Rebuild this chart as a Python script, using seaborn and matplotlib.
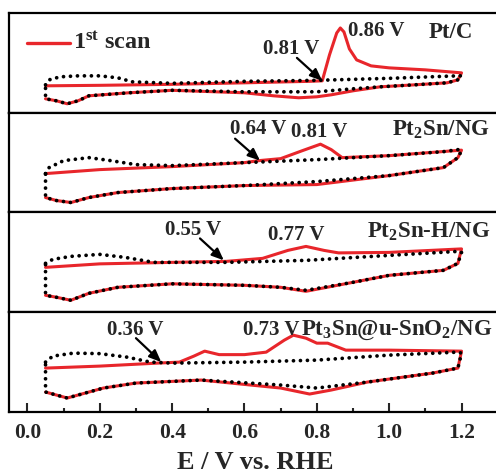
import matplotlib
matplotlib.use("Agg")
import matplotlib.pyplot as plt
import seaborn as sns

# anodic sweep then cathodic sweep, current in arbitrary units
PTC_DOT_V = [0.05, 0.06, 0.09, 0.14, 0.20, 0.25, 0.29, 0.40, 0.60, 0.80, 1.00, 1.15, 1.19, 1.20, 1.19, 1.16,
             1.07, 0.975, 0.90, 0.80, 0.60, 0.40, 0.28, 0.17, 0.14, 0.11, 0.08, 0.05, 0.05]
PTC_DOT_I = [28, 33, 36, 37, 37, 35, 31, 29.5, 31.5, 32.5, 34.5, 36.5, 37, 37, 33, 30,
             28, 26, 24, 21, 21, 22.5, 20, 17, 12, 9, 12, 14, 28]
PTC_RED_V = [0.05, 0.20, 0.40, 0.60, 0.78, 0.815, 0.835, 0.855, 0.865, 0.875, 0.89, 0.91, 0.95, 1.00, 1.10, 1.20,
             1.19, 1.16, 1.07, 0.975, 0.90, 0.84, 0.80, 0.75, 0.68, 0.60, 0.40, 0.28, 0.17, 0.14, 0.11, 0.08,
             0.05]
PTC_RED_I = [27, 27.5, 28.5, 30, 31.5, 32, 58, 80, 85, 81, 64, 53, 47, 45, 43, 40,
             33, 30, 28, 26, 22, 18, 16, 15, 17, 20, 22.5, 20, 17, 12, 9, 12,
             14]

PT2SN_DOT_V = [0.05, 0.06, 0.10, 0.17, 0.23, 0.30, 0.40, 0.60, 0.80, 1.00, 1.15, 1.19, 1.20, 1.19, 1.15, 1.00,
               0.80, 0.60, 0.40, 0.25, 0.17, 0.12, 0.08, 0.05, 0.05]
PT2SN_DOT_I = [39, 45, 52, 55, 52, 48, 47, 50, 53, 57, 61, 63, 62, 55, 45, 37,
               31, 27, 24, 20, 15, 10, 12, 15, 39]
PT2SN_RED_V = [0.05, 0.20, 0.40, 0.60, 0.64, 0.70, 0.76, 0.81, 0.84, 0.87, 1.00, 1.20, 1.19, 1.15, 1.00, 0.80,
               0.60, 0.40, 0.25, 0.17, 0.12, 0.08, 0.05]
PT2SN_RED_I = [39, 43, 46, 50, 52, 54, 62, 68.5, 63, 55, 57, 62.5, 55, 45, 37, 28,
               27, 24, 20, 15, 10, 12, 15]

PT2SNH_DOT_V = [0.05, 0.07, 0.12, 0.20, 0.27, 0.35, 0.55, 0.77, 1.00, 1.19, 1.20, 1.19, 1.15, 1.00, 0.90, 0.77,
                0.70, 0.60, 0.40, 0.25, 0.17, 0.12, 0.08, 0.05, 0.05]
PT2SNH_DOT_I = [49, 53, 56, 58, 55, 50, 50, 52, 57, 61, 60, 49, 42, 37, 30, 22,
                25, 27, 28.5, 25, 19, 12, 15, 17, 49]
PT2SNH_RED_V = [0.05, 0.20, 0.40, 0.55, 0.65, 0.72, 0.77, 0.82, 0.86, 1.00, 1.20, 1.19, 1.15, 1.00, 0.90, 0.77,
                0.70, 0.60, 0.40, 0.25, 0.17, 0.12, 0.08, 0.05]
PT2SNH_RED_I = [45, 48.5, 50, 51, 54, 62, 66, 62, 59.5, 60, 63.5, 49, 42, 37, 30, 21,
                25, 27, 28.5, 25, 19, 12, 15, 17]

PT3SN_DOT_V = [0.05, 0.07, 0.127, 0.20, 0.275, 0.34, 0.40, 0.60, 0.80, 1.00, 1.19, 1.20, 1.19, 1.12, 0.94, 0.80,
               0.70, 0.48, 0.30, 0.21, 0.15, 0.11, 0.08, 0.05, 0.05]
PT3SN_DOT_I = [50, 56, 59, 58.5, 55, 50, 49, 50, 52, 57, 60, 59, 44, 39, 30, 24,
               27, 32, 29, 24, 18, 14, 17, 20, 50]
PT3SN_RED_V = [0.05, 0.20, 0.36, 0.42, 0.46, 0.49, 0.53, 0.60, 0.66, 0.71, 0.735, 0.77, 0.80, 0.83, 0.88, 1.00,
               1.20, 1.19, 1.12, 0.94, 0.84, 0.78, 0.70, 0.48, 0.30, 0.21, 0.15, 0.11, 0.08, 0.05]
PT3SN_RED_I = [44, 46, 49, 50, 56, 61, 57.5, 57.5, 60, 72, 77, 74, 69, 69, 62, 62,
               61, 44, 39, 30, 22, 18, 24, 32, 29, 24, 18, 14, 17, 20]

SAMPLE_LABELS = ["Pt/C", "Pt$_2$Sn/NG", "Pt$_2$Sn-H/NG", "Pt$_3$Sn@u-SnO$_2$/NG"]
ONSET_LABELS = ["0.81 V", "0.64 V", "0.55 V", "0.36 V"]
PEAK_LABELS = ["0.86 V", "0.81 V", "0.77 V", "0.73 V"]
X_TICKS = [0.0, 0.2, 0.4, 0.6, 0.8, 1.0, 1.2]


def main():
    sns.set_theme(style="ticks")
    plt.rcParams["font.family"] = ["Liberation Serif", "DejaVu Serif"]
    plt.rcParams["font.weight"] = "bold"
    plt.rcParams["mathtext.fontset"] = "custom"
    plt.rcParams["mathtext.rm"] = "Liberation Serif:bold"
    plt.rcParams["mathtext.it"] = "Liberation Serif:bold"
    plt.rcParams["mathtext.bf"] = "Liberation Serif:bold"
    plt.rcParams["mathtext.default"] = "rm"

    fig, axes = plt.subplots(4, 1, figsize=(4.96, 4.73), dpi=100, sharex=True)
    fig.subplots_adjust(left=0.019, right=1.01, top=0.9725, bottom=0.129, hspace=0)

    curves = [
        (PTC_DOT_V, PTC_DOT_I, PTC_RED_V, PTC_RED_I),
        (PT2SN_DOT_V, PT2SN_DOT_I, PT2SN_RED_V, PT2SN_RED_I),
        (PT2SNH_DOT_V, PT2SNH_DOT_I, PT2SNH_RED_V, PT2SNH_RED_I),
        (PT3SN_DOT_V, PT3SN_DOT_I, PT3SN_RED_V, PT3SN_RED_I),
    ]

    # text positions (x, y, ha) per panel
    onset_text = [(0.65, 59, "left"), (0.56, 78.7, "left"), (0.38, 77, "left"), (0.22, 77, "left")]
    onset_arrow = [((0.745, 55), (0.815, 32)), ((0.574, 74), (0.643, 52)),
                   ((0.477, 74), (0.543, 52)), ((0.30, 74), (0.37, 50))]
    peak_text = [(0.886, 77, "left"), (0.806, 75.3, "center"), (0.666, 72, "left"), (0.597, 77, "left")]
    label_pos = [(1.11, 75, "left"), (1.279, 77, "right"), (1.279, 75, "right"), (1.285, 77, "right")]

    for i, ax in enumerate(axes):
        dot_v, dot_i, red_v, red_i = curves[i]
        sns.lineplot(x=red_v, y=red_i, sort=False, estimator=None, color="#e8262b",
                     linewidth=2.2, ax=ax)
        sns.lineplot(x=dot_v, y=dot_i, sort=False, estimator=None, color="black",
                     linewidth=2.7, linestyle=(0, (0.01, 1.85)), dash_capstyle="round", ax=ax)

        ax.set_xlim(-0.0498, 1.309)
        ax.set_ylim(0, 100)
        ax.set_yticks([])
        ax.set_ylabel("")
        for side in ["top", "bottom", "left", "right"]:
            ax.spines[side].set_linewidth(1.6)
            ax.spines[side].set_color("black")
        ax.spines["right"].set_visible(False)

        tx, ty, ha = onset_text[i]
        ax.text(tx, ty, ONSET_LABELS[i], fontsize=15, fontweight="bold", ha=ha, va="baseline")
        (x0, y0), (x1, y1) = onset_arrow[i]
        ax.annotate("", xy=(x1, y1), xytext=(x0, y0),
                    arrowprops=dict(arrowstyle="-|>,head_length=0.6,head_width=0.25",
                                    color="black", lw=1.6, shrinkA=0, shrinkB=0))
        tx, ty, ha = peak_text[i]
        ax.text(tx, ty, PEAK_LABELS[i], fontsize=15, fontweight="bold", ha=ha, va="baseline")
        tx, ty, ha = label_pos[i]
        ax.text(tx, ty, SAMPLE_LABELS[i], fontsize=16.5, fontweight="bold", ha=ha, va="baseline")

        if i < 3:
            ax.tick_params(axis="x", which="both", bottom=False, labelbottom=False)

    # legend drawn by hand like the original
    axes[0].plot([0.0, 0.117], [70, 70], color="#e8262b", linewidth=2.4)
    axes[0].text(0.125, 64, "1$^{st}$ scan", fontsize=17.5, fontweight="bold", va="baseline")

    bottom_ax = axes[-1]
    bottom_ax.set_xticks(X_TICKS)
    bottom_ax.set_xticks([0.1, 0.3, 0.5, 0.7, 0.9, 1.1], minor=True)
    bottom_ax.set_xticklabels([f"{t:.1f}" for t in X_TICKS], fontsize=15.5, fontweight="bold")
    bottom_ax.tick_params(axis="x", which="major", direction="in", length=6.5, width=1.5, pad=8)
    bottom_ax.tick_params(axis="x", which="minor", direction="in", length=3, width=1.5)
    bottom_ax.set_xlabel("E / V vs. RHE", fontsize=19, fontweight="bold", labelpad=6)

    fig.savefig("out.png", dpi=100, facecolor="white")
    plt.close(fig)


if __name__ == "__main__":
    main()
